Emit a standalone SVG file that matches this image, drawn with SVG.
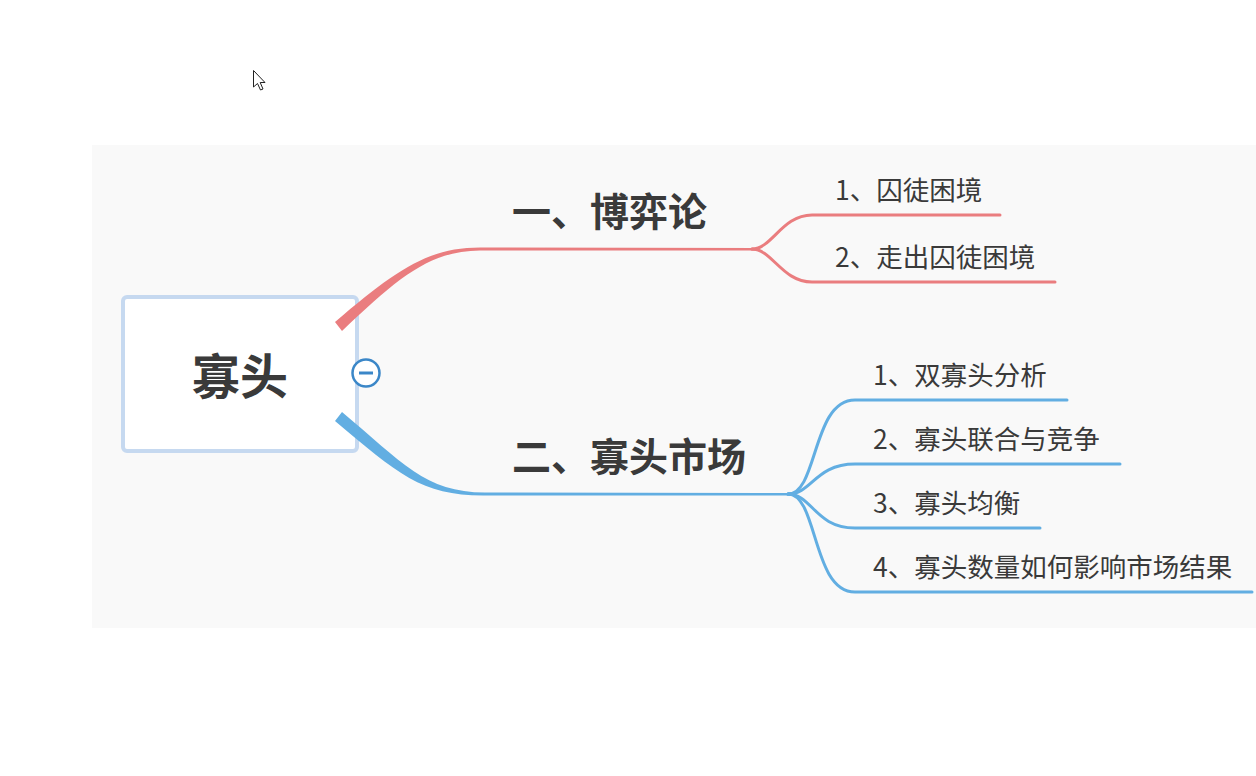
<svg xmlns="http://www.w3.org/2000/svg" width="1256" height="776" viewBox="0 0 1256 776">
<style>
text{font-family:"Noto Sans CJK SC","Noto Sans",sans-serif;fill:#3a3a3a}
.title{font-size:39px;font-weight:bold}
.sub{font-size:26.5px}
.red{fill:none;stroke:#ea7d7f;stroke-width:3;stroke-linecap:round}
.blue{fill:none;stroke:#62aee2;stroke-width:3;stroke-linecap:round}
</style>
<rect x="0" y="0" width="1256" height="776" fill="#ffffff"/>
<rect x="92" y="145" width="1164" height="483" fill="#f9f9f9"/>
<g id="cursor"><path d="M253.5,70.5 L253.5,87 L257.5,83.5 L260.5,90 L263,89 L260.2,82.5 L265,82.5 Z" fill="#ffffff" stroke="#222" stroke-width="1"/></g>
<g id="root">
<rect x="123" y="297" width="234" height="154" rx="4" fill="#ffffff" stroke="#c6d9f0" stroke-width="4"/>
<text x="240" y="394" text-anchor="middle" style="font-size:48px;font-weight:bold">寡头</text>
</g>
<g id="connectors">
<path d="M335,322 C396,270 428,247.5 480,247.5 L757,248 L757,250.5 L480,250.5 C430,251 400,276 342,331 Z" fill="#ea7d7f"/>
<path class="red" d="M752,249 C772,249 782,215 812,215 L1000,215"/>
<path class="red" d="M752,249 C772,249 782,282 812,282 L1055,282"/>
<path d="M342,412 C402,462 425,492.5 485,492.5 L790,493 L790,495.5 L485,495.5 C422,496 398,474 335,421 Z" fill="#62aee2"/>
<path class="blue" d="M788,494 C818,494 812,400 855,400 L1067,400"/>
<path class="blue" d="M788,494 C812,494 815,464 855,464 L1120,464"/>
<path class="blue" d="M788,494 C812,494 815,528 855,528 L1040,528"/>
<path class="blue" d="M788,494 C818,494 812,592 855,592 L1252,592"/>
</g>
<g id="collapse">
<circle cx="366" cy="373" r="13.5" fill="#ffffff" stroke="#3b87c8" stroke-width="2.5"/>
<line x1="359" y1="373" x2="373" y2="373" stroke="#3b87c8" stroke-width="3"/>
</g>
<g id="topic1"><text class="title" x="512" y="226">一、博弈论</text></g>
<g id="topic1-1"><text class="sub" x="835" y="200">1、囚徒困境</text></g>
<g id="topic1-2"><text class="sub" x="835" y="267">2、走出囚徒困境</text></g>
<g id="topic2"><text class="title" x="512" y="471">二、寡头市场</text></g>
<g id="topic2-1"><text class="sub" x="873" y="385">1、双寡头分析</text></g>
<g id="topic2-2"><text class="sub" x="873" y="449">2、寡头联合与竞争</text></g>
<g id="topic2-3"><text class="sub" x="873" y="513">3、寡头均衡</text></g>
<g id="topic2-4"><text class="sub" x="873" y="577">4、寡头数量如何影响市场结果</text></g>
</svg>
